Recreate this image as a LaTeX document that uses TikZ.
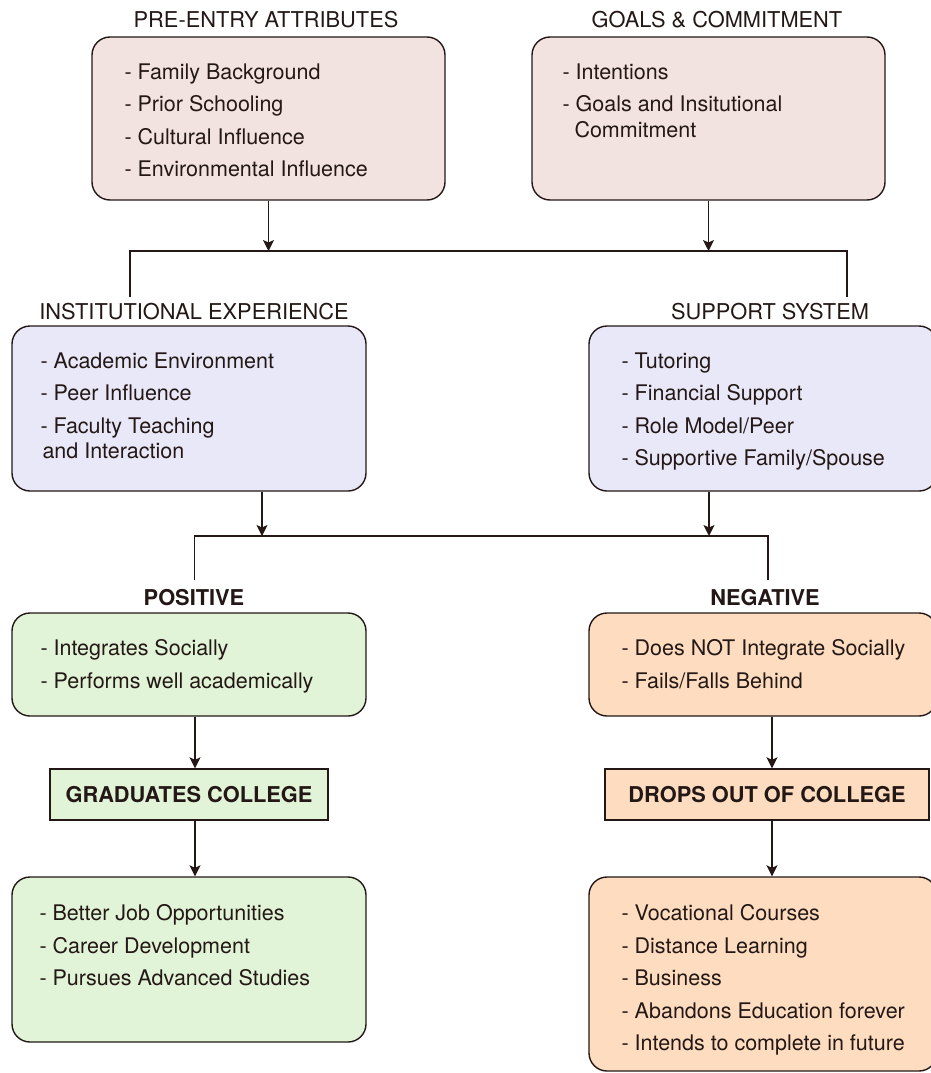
\documentclass[tikz,border=0pt]{standalone}
\usepackage{fontspec}
\setmainfont{TeX Gyre Heros}
\usetikzlibrary{arrows.meta,positioning}

\definecolor{ink}{HTML}{231815}
\definecolor{pinkfill}{HTML}{F3E3E0}
\definecolor{bluefill}{HTML}{E9E8F8}
\definecolor{greenfill}{HTML}{E2F4D8}
\definecolor{orangefill}{HTML}{FDDCC0}

\begin{document}
\begin{tikzpicture}[x=1pt, y=-1pt,
	every node/.style = {text=ink, inner sep=0pt,
		font=\fontsize{21.5}{32.5}\selectfont},
	panel/.style 2 args = {shape=rectangle, rounded corners=18pt,
		draw=ink, line width=1.4pt, minimum width=#1, minimum height=#2},
	outcome/.style 2 args = {shape=rectangle, draw=ink, line width=1.4pt,
		minimum width=#1, minimum height=#2,
		font=\fontsize{21.8}{25}\selectfont\bfseries},
	items/.style = {anchor=north west, align=left},
	heading/.style = {font=\fontsize{21.8}{25}\selectfont},
	arr/.style = {draw=ink, line width=1.3pt,
		-{Stealth[length=11pt, width=11pt, inset=2.5pt]}},
	bar/.style = {draw=ink, line width=1.3pt}]
	\useasboundingbox (0,0) rectangle (931,1073);

	% top row
	\node[panel={353}{163}, fill=pinkfill] (pre) at (268.5,118.5) {};
	\node[panel={353}{163}, fill=pinkfill] (goals) at (708.5,118.5) {};
	\node[heading] (pre-head) at (266,20) {PRE-ENTRY ATTRIBUTES};
	\node[heading] (goals-head) at (717,20) {GOALS \& COMMITMENT};
	\node[items] (pre-txt) at ([shift={(33,27)}]pre.north west)
		{- Family Background\\- Prior Schooling\\- Cultural Influence\\- Environmental Influence};
	\node[items] (goals-txt) at ([shift={(31,27)}]goals.north west)
		{- Intentions\\- Goals and Insitutional\\[-7pt]\hspace*{12pt}Commitment};

	% middle row
	\node[panel={354}{165}, fill=bluefill] (inst) at (189,408.5) {};
	\node[panel={348}{165}, fill=bluefill] (supp) at (763,408.5) {};
	\node[heading] (inst-head) at (194,311.5) {INSTITUTIONAL EXPERIENCE};
	\node[heading] (supp-head) at (770,311.5) {SUPPORT SYSTEM};
	\node[items] (inst-txt) at ([shift={(29,27)}]inst.north west)
		{- Academic Environment\\- Peer Influence\\- Faculty Teaching\\[-7pt]\hspace*{2pt}and Interaction};
	\node[items] (supp-txt) at ([shift={(33,27)}]supp.north west)
		{- Tutoring\\- Financial Support\\- Role Model/Peer\\- Supportive Family/Spouse};

	% outcomes
	\node[panel={354}{103}, fill=greenfill] (pos) at (189,664.5) {};
	\node[panel={348}{103}, fill=orangefill] (neg) at (763,664.5) {};
	\node[heading, font=\fontsize{21.8}{25}\selectfont\bfseries] (pos-head) at (194,597.5) {POSITIVE};
	\node[heading, font=\fontsize{21.8}{25}\selectfont\bfseries] (neg-head) at (765,597.5) {NEGATIVE};
	\node[items] (pos-txt) at ([shift={(29,27)}]pos.north west)
		{- Integrates Socially\\- Performs well academically};
	\node[items] (neg-txt) at ([shift={(33,27)}]neg.north west)
		{- Does NOT Integrate Socially\\- Fails/Falls Behind};

	\node[outcome={278}{51}, fill=greenfill] (grad) at (189,794.5) {GRADUATES COLLEGE};
	\node[outcome={324}{51}, fill=orangefill] (drop) at (767,794.5) {DROPS OUT OF COLLEGE};

	\node[panel={354}{165}, fill=greenfill] (after) at (189,959.5) {};
	\node[panel={348}{194}, fill=orangefill] (later) at (763,974) {};
	\node[items] (after-txt) at ([shift={(28,28)}]after.north west)
		{- Better Job Opportunities\\- Career Development\\- Pursues Advanced Studies};
	\node[items] (later-txt) at ([shift={(33,28)}]later.north west)
		{- Vocational Courses\\- Distance Learning\\- Business\\- Abandons Education forever\\- Intends to complete in future};

	% joins
	\coordinate (bar1l) at (130,251);
	\coordinate (bar1r) at (847,251);
	\coordinate (bar1ld) at (130,297);
	\coordinate (bar1rd) at (847,297);
	\coordinate (bar2l) at (194.5,536);
	\coordinate (bar2r) at (768,536);
	\coordinate (bar2ld) at (194.5,580);
	\coordinate (bar2rd) at (768,580);
	\coordinate (in2l) at (262,536);
	\coordinate (in2r) at (709,536);
	\coordinate (colL) at (195,0);
	\coordinate (colR) at (772,0);

	\draw[bar] (bar1ld) -- (bar1l) -- (bar1r) -- (bar1rd);
	\draw[arr] (pre.south) -- (pre.south |- bar1l);
	\draw[arr] (goals.south) -- (goals.south |- bar1r);

	\draw[bar] (bar2ld) -- (bar2l) -- (bar2r) -- (bar2rd);
	\draw[arr] (inst.south -| in2l) -- (in2l);
	\draw[arr] (supp.south -| in2r) -- (in2r);

	\draw[arr] (pos.south -| colL) -- (grad.north -| colL);
	\draw[arr] (grad.south -| colL) -- (after.north -| colL);
	\draw[arr] (neg.south -| colR) -- (drop.north -| colR);
	\draw[arr] (drop.south -| colR) -- (later.north -| colR);
\end{tikzpicture}
\end{document}
